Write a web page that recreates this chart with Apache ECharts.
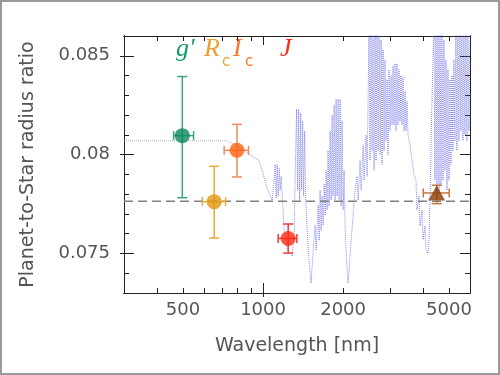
<!DOCTYPE html>
<html>
<head>
<meta charset="utf-8">
<script src="https://cdn.jsdelivr.net/npm/echarts@6/dist/echarts.min.js"></script>
<style>
  html, body { margin: 0; padding: 0; background: #fff; }
  #chart { width: 500px; height: 375px; }
</style>
</head>
<body>
<div id="chart"></div>
<script>
// measured transit depths per band
const bands = ["g'", 'Rc', 'Ic', 'J', '4.5um']
const wave = [497, 655, 798, 1243, 4496]
const waveLo = [461, 591, 714, 1140, 4004]
const waveHi = [548, 723, 882, 1340, 5012]
const ratio = [0.08096, 0.07762, 0.08022, 0.07576, 0.07806]
const ratioLo = [0.07782, 0.07578, 0.07887, 0.07502, 0.07752]
const ratioHi = [0.08395, 0.07941, 0.08153, 0.07649, 0.07845]
const meanRatio = 0.07764

// model spectrum, first 3 points are the flat grey part
const modelWave = [
  300, 733, 793, 872, 913, 966, 993, 1027, 1082, 1096, 1111, 1120, 1130, 1140, 1150, 1160, 1170,
  1200, 1232, 1265, 1288, 1310, 1326, 1337, 1349, 1361, 1373, 1385, 1397, 1409, 1421, 1434, 1446,
  1465, 1490, 1516, 1543, 1570, 1584, 1611, 1625, 1639, 1653, 1668, 1682, 1697, 1712, 1727, 1741,
  1756, 1772, 1787, 1803, 1818, 1834, 1850, 1866, 1882, 1899, 1915, 1932, 1949, 1966, 1983, 2000,
  2018, 2035, 2061, 2088, 2106, 2144, 2181, 2218, 2257, 2277, 2317, 2337, 2378, 2398, 2440, 2462,
  2483, 2504, 2525, 2547, 2570, 2592, 2614, 2637, 2660, 2683, 2707, 2730, 2754, 2778, 2802, 2826,
  2851, 2875, 2900, 2926, 2951, 2977, 3003, 3029, 3055, 3082, 3109, 3135, 3163, 3190, 3218, 3245,
  3273, 3302, 3330, 3360, 3389, 3419, 3449, 3478, 3508, 3569, 3631, 3695, 3760, 3792, 3858, 3892,
  3960, 3995, 4064, 4099, 4171, 4207, 4243, 4280, 4317, 4354, 4392, 4430, 4469, 4508, 4547, 4587,
  4627, 4667, 4708, 4749, 4790, 4831, 4873, 4916, 4958, 5002, 5045, 5089, 5133, 5176, 5221, 5266,
  5312, 5358, 5405, 5452, 5499, 5547, 5595, 5644, 5693, 5743, 5793, 5843, 5894, 5945, 5997
]
const modelRatio = [
  0.0807, 0.0807, 0.0805, 0.0801, 0.0799, 0.0797, 0.0792, 0.07845, 0.07769, 0.07845, 0.0795, 0.0778, 0.0795, 0.0779, 0.0793, 0.0782, 0.0789,
  0.0762, 0.07525, 0.0750, 0.07485, 0.0762, 0.0802, 0.0823, 0.0782, 0.0823, 0.0777, 0.0821, 0.0782, 0.0817, 0.0779, 0.0812, 0.0777,
  0.0762, 0.07465, 0.0735, 0.07516, 0.07643, 0.07516, 0.07744, 0.07566, 0.0782, 0.07617, 0.0779, 0.07643, 0.0785, 0.07692, 0.0792, 0.0772,
  0.0802, 0.0774, 0.0812, 0.0777, 0.0820, 0.0779, 0.0825, 0.0777, 0.0828, 0.0779, 0.0828, 0.0777, 0.0828, 0.0774, 0.0817, 0.0772,
  0.0792, 0.0762, 0.07465, 0.0735, 0.07415, 0.07566, 0.0769, 0.0782, 0.0789, 0.0777, 0.0797, 0.0782, 0.0805, 0.0787, 0.0810, 0.0789,
  0.0828, 0.0868, 0.0797, 0.0868, 0.0802, 0.0868, 0.0792, 0.0868, 0.0797, 0.0868, 0.0802, 0.0868, 0.0800, 0.0858, 0.0795, 0.0853,
  0.0802, 0.0848, 0.0807, 0.0838, 0.0800, 0.0843, 0.0812, 0.0840, 0.0815, 0.0845, 0.0815, 0.0846, 0.0812, 0.0846, 0.0815, 0.0843,
  0.0817, 0.0840, 0.0815, 0.0839, 0.0812, 0.0832, 0.0812, 0.0827, 0.0810, 0.0805, 0.0797, 0.0790, 0.0787, 0.0772, 0.0779, 0.0764,
  0.0772, 0.0757, 0.0764, 0.0752, 0.0750, 0.0757, 0.0777, 0.0802, 0.0828, 0.0848, 0.0868, 0.0787, 0.0868, 0.0782, 0.0868, 0.0780,
  0.0868, 0.0784, 0.0868, 0.0787, 0.0858, 0.0792, 0.0848, 0.0782, 0.0843, 0.0787, 0.0838, 0.0795, 0.0840, 0.0802, 0.0848, 0.0807,
  0.0868, 0.0802, 0.0868, 0.0807, 0.0868, 0.0812, 0.0868, 0.0807, 0.0868, 0.0810, 0.0868, 0.0807, 0.0868, 0.0812, 0.0858
]

// axis ticks
const xMinorTicks = [400, 500, 600, 700, 800, 900, 2000, 3000, 4000, 5000]
const xMajorTicks = [1000]
const xLabels = [500, 1000, 2000, 5000]
const yMajor = [0.075, 0.08, 0.085]

const markerColors = ['#0b8a5b', '#e0980e', '#ff6010', '#ff2a10', '#8a3a05']
const barColors = ['#3aa57f', '#e8aa3a', '#f08a60', '#f03a3a', '#c07a40']
const textColors = ['#13996a', '#f0a030', '#ff7428', '#ff2a1a']

const axisColor = '#222'
const labelFont = { color: '#555', fontSize: 18, fontFamily: 'DejaVu Sans' }
const nameFont = { color: '#555', fontSize: 19, fontFamily: 'DejaVu Sans' }

// note: axisLine width must stay 1, fractional widths hide the ticks of stacked axes
function xAxisCfg (pos, ticks, len, inside, extra) {
  return Object.assign({
    type: 'log',
    min: 300,
    max: 6000,
    position: pos,
    axisLine: { show: true, onZero: false, lineStyle: { color: axisColor, width: 1 } },
    axisTick: { show: true, inside: inside, length: len, customValues: ticks, lineStyle: { color: axisColor } },
    axisLabel: { show: false },
    splitLine: { show: false }
  }, extra || {})
}

function yAxisCfg (pos, ticks, len, inside, extra) {
  const ax = {
    type: 'value',
    min: 0.073,
    max: 0.086,
    interval: 0.001,
    position: pos,
    axisLine: { show: true, onZero: false, lineStyle: { color: axisColor, width: 1 } },
    axisTick: { show: true, inside: inside, length: len, lineStyle: { color: axisColor } },
    axisLabel: { show: false },
    splitLine: { show: false }
  }
  if (ticks) ax.axisTick.customValues = ticks
  return Object.assign(ax, extra || {})
}

const points = wave.map((w, i) => [w, ratio[i], waveLo[i], waveHi[i], ratioLo[i], ratioHi[i]])
const model = modelWave.map((w, i) => [w, modelRatio[i]])

const chart = echarts.init(document.getElementById('chart'))
chart.setOption({
  animation: false,
  grid: { left: 124, right: 30, top: 36, bottom: 82 },
  xAxis: [
    xAxisCfg('bottom', xMinorTicks, 5, true, {
      name: 'Wavelength [nm]',
      nameLocation: 'middle',
      nameGap: 44,
      nameTextStyle: nameFont,
      axisLabel: Object.assign({ show: true, margin: 8, customValues: xLabels, formatter: v => String(v) }, labelFont)
    }),
    xAxisCfg('bottom', xMajorTicks, 10, true),
    xAxisCfg('bottom', xMajorTicks, 4, false),
    xAxisCfg('top', xMinorTicks, 5, true),
    xAxisCfg('top', xMajorTicks, 9, true)
  ],
  yAxis: [
    yAxisCfg('left', null, 5, true, {
      name: 'Planet-to-Star radius ratio',
      nameLocation: 'middle',
      nameGap: 86,
      nameTextStyle: nameFont,
      axisLabel: Object.assign({ show: true, margin: 14, customValues: yMajor, formatter: v => String(v) }, labelFont)
    }),
    yAxisCfg('left', yMajor, 10, true),
    yAxisCfg('left', yMajor, 4, false),
    yAxisCfg('right', null, 5, true),
    yAxisCfg('right', yMajor, 10, true)
  ],
  graphic: [
    { type: 'rect', shape: { x: 1, y: 1, width: 498, height: 373 }, style: { fill: null, stroke: '#999', lineWidth: 2 }, silent: true },
    { type: 'text', left: 176, top: 36, style: { text: "g'", font: 'italic 26px "Liberation Serif"', fill: textColors[0] } },
    { type: 'text', left: 204, top: 36, style: { text: 'R', font: 'italic 26px "Liberation Serif"', fill: textColors[1] } },
    { type: 'text', left: 222, top: 55, style: { text: 'c', font: '15px "DejaVu Sans"', fill: textColors[1] } },
    { type: 'text', left: 233, top: 36, style: { text: 'I', font: 'italic 26px "Liberation Serif"', fill: textColors[2] } },
    { type: 'text', left: 245, top: 55, style: { text: 'c', font: '15px "DejaVu Sans"', fill: textColors[2] } },
    { type: 'text', left: 280, top: 36, style: { text: 'J', font: 'italic 26px "Liberation Serif"', fill: textColors[3] } }
  ],
  series: [
    {
      name: 'model flat',
      type: 'line',
      data: model.slice(0, 3),
      showSymbol: false,
      lineStyle: { color: 'rgba(150,150,165,0.75)', width: 1, type: 'dotted' },
      z: 1
    },
    {
      name: 'model',
      type: 'line',
      data: model.slice(2),
      showSymbol: false,
      clip: true,
      lineStyle: { color: 'rgba(70,70,225,0.62)', width: 1, type: 'dotted' },
      z: 1
    },
    {
      name: 'mean',
      type: 'line',
      data: [[300, meanRatio], [6000, meanRatio]],
      showSymbol: false,
      lineStyle: { color: '#808080', width: 1.3, type: [9, 5] },
      z: 2
    },
    {
      name: 'errors',
      type: 'custom',
      data: points,
      encode: { x: [0, 2, 3], y: [1, 4, 5] },
      z: 3,
      renderItem (params, api) {
        const i = params.dataIndex
        const c = api.coord([api.value(0), api.value(1)])
        const xl = api.coord([api.value(2), api.value(1)])
        const xh = api.coord([api.value(3), api.value(1)])
        const yl = api.coord([api.value(0), api.value(4)])
        const yh = api.coord([api.value(0), api.value(5)])
        const st = { stroke: barColors[i], lineWidth: 1.5 }
        const cw = 5
        const ch = 4.5
        const ln = (x1, y1, x2, y2) => ({ type: 'line', shape: { x1, y1, x2, y2 }, style: st })
        return {
          type: 'group',
          children: [
            ln(c[0], yl[1], c[0], yh[1]),
            ln(c[0] - cw, yl[1], c[0] + cw, yl[1]),
            ln(c[0] - cw, yh[1], c[0] + cw, yh[1]),
            ln(xl[0], c[1], xh[0], c[1]),
            ln(xl[0], c[1] - ch, xl[0], c[1] + ch),
            ln(xh[0], c[1] - ch, xh[0], c[1] + ch)
          ]
        }
      }
    },
    {
      name: 'bands',
      type: 'scatter',
      data: points.map((p, i) => ({
        value: [p[0], p[1]],
        name: bands[i],
        symbol: i === 4 ? 'triangle' : 'circle',
        symbolSize: i === 4 ? [17, 15] : 15,
        itemStyle: { color: markerColors[i] }
      })),
      z: 4
    }
  ]
})
</script>
</body>
</html>
